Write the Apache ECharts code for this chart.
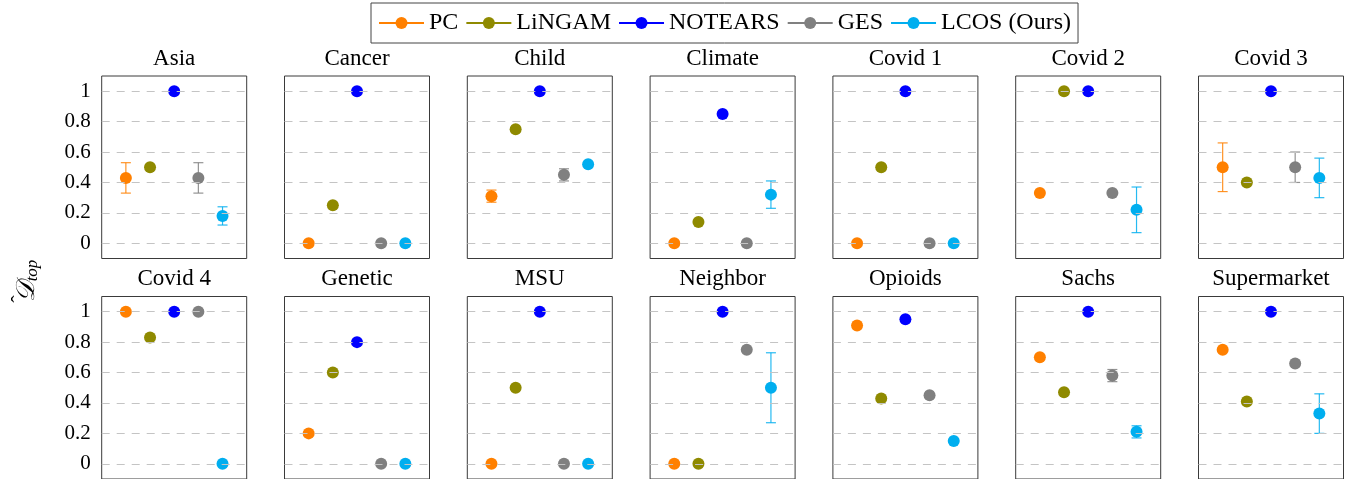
<!DOCTYPE html>
<html>
<head>
<meta charset="utf-8">
<script src="https://cdn.jsdelivr.net/npm/echarts@6/dist/echarts.min.js"></script>
<style>html,body{margin:0;padding:0;background:#fff}#c{width:1363px;height:479px}</style>
</head>
<body>
<div id="c"></div>
<script>
const datasetNames = ['Asia','Cancer','Child','Climate','Covid 1','Covid 2','Covid 3',
  'Covid 4','Genetic','MSU','Neighbor','Opioids','Sachs','Supermarket'];
const methods = ['PC','LiNGAM','NOTEARS','GES','LCOS (Ours)'];
const methodColors = ['#ff8000','#8f8a00','#0000ff','#808080','#00aeef'];

const pcValues      = [0.43,0,0.31,0,0,0.33,0.50,1,0.20,0,0,0.91,0.70,0.75];
const lingamValues  = [0.50,0.25,0.75,0.14,0.50,1,0.40,0.83,0.60,0.50,0,0.43,0.47,0.41];
const notearsValues = [1,1,1,0.85,1,1,1,1,0.80,1,1,0.95,1,1];
const gesValues     = [0.43,0,0.45,0,0,0.33,0.50,1,0,0,0.75,0.45,0.58,0.66];
const lcosValues    = [0.18,0,0.52,0.32,0,0.22,0.43,0,0,0,0.50,0.15,0.21,0.33];

// error bars [low, high] or null
const pcErr   = [[0.33,0.53],null,[0.27,0.35],null,null,null,[0.34,0.66],null,null,null,null,null,null,null];
const lingamErr = [null,null,null,null,null,null,null,null,null,null,null,null,null,null];
const notearsErr = [null,null,null,null,null,null,null,null,null,null,null,null,null,null];
const gesErr  = [[0.33,0.53],null,[0.41,0.49],null,null,null,[0.40,0.60],null,null,null,null,null,[0.54,0.62],null];
const lcosErr = [[0.12,0.24],null,null,[0.23,0.41],null,[0.07,0.37],[0.30,0.56],null,null,null,[0.27,0.73],null,[0.17,0.25],[0.20,0.46]];

const yTicks = [0,0.2,0.4,0.6,0.8,1];
const yTickLabels = ['0','0.2','0.4','0.6','0.8','1'];

const allValues = [pcValues, lingamValues, notearsValues, gesValues, lcosValues];
const allErr = [pcErr, lingamErr, notearsErr, gesErr, lcosErr];

const chart = echarts.init(document.getElementById('c'));
const serif = 'Liberation Serif';

const grids = [], xAxes = [], yAxes = [], series = [], titles = [];
const panelW = 145, pitch = 182.8, left0 = 101.7;
const rowTop = [76, 296.5], panelH = 182.5;

// marker series first (so the legend takes its icon from them)
datasetNames.forEach((name, i) => {
  const row = Math.floor(i / 7), col = i % 7;
  const left = left0 + pitch * col;
  const top = rowTop[row];
  grids.push({ left: left, top: top, width: panelW, height: panelH,
    show: true, borderColor: '#3a3a3a', borderWidth: 1, backgroundColor: 'transparent' });
  xAxes.push({ gridIndex: i, type: 'value', min: 0, max: 6, show: false });
  yAxes.push({ gridIndex: i, type: 'value', min: -0.1, max: 1.1,
    axisLine: { show: false },
    splitLine: { show: false },
    axisTick: { show: true, inside: true, length: 5, customValues: yTicks,
      lineStyle: { color: '#444', width: 1 } },
    axisLabel: { show: col === 0, customValues: yTicks, margin: 11,
      color: '#000', fontFamily: serif, fontSize: 21,
      formatter: v => yTickLabels[yTicks.findIndex(t => Math.abs(t - v) < 1e-6)] }
  });
  titles.push({ text: name, left: left + panelW / 2, top: top - 29, textAlign: 'center', padding: 0,
    textStyle: { fontFamily: serif, fontSize: 23, fontWeight: 'normal', color: '#000' } });

  methods.forEach((m, k) => {
    series.push({ type: 'line', name: m, xAxisIndex: i, yAxisIndex: i, z: 3,
      data: [[k + 1, allValues[k][i]]],
      symbol: 'circle', symbolSize: 12, showSymbol: true,
      itemStyle: { color: methodColors[k] },
      lineStyle: { color: methodColors[k], width: 1 },
      animation: false });
  });
});

datasetNames.forEach((name, i) => {
  // gridlines
  series.push({ type: 'line', name: '_grid', xAxisIndex: i, yAxisIndex: i, data: [], silent: true, z: 1,
    markLine: { silent: true, symbol: 'none', label: { show: false }, animation: false,
      lineStyle: { color: '#c4c4c4', type: [8, 7], width: 1 },
      data: yTicks.map(t => ({ yAxis: t })) } });
  methods.forEach((m, k) => {
    const err = allErr[k][i];
    if (!err) return;
    series.push({ type: 'custom', name: m + ' err', xAxisIndex: i, yAxisIndex: i, z: 2, silent: true,
      data: [[k + 1, err[0], err[1]]],
      renderItem: (params, api) => {
        const lo = api.coord([api.value(0), api.value(1)]);
        const hi = api.coord([api.value(0), api.value(2)]);
        const hw = 5;
        const st = { stroke: methodColors[k], lineWidth: 1.2, opacity: 0.85 };
        return { type: 'group', children: [
          { type: 'line', shape: { x1: lo[0], y1: lo[1], x2: hi[0], y2: hi[1] }, style: st },
          { type: 'line', shape: { x1: lo[0] - hw, y1: lo[1], x2: lo[0] + hw, y2: lo[1] }, style: st },
          { type: 'line', shape: { x1: hi[0] - hw, y1: hi[1], x2: hi[0] + hw, y2: hi[1] }, style: st }
        ] };
      }
    });
  });
});

chart.setOption({
  animation: false,
  title: titles,
  grid: grids,
  xAxis: xAxes,
  yAxis: yAxes,
  legend: {
    data: methods, left: 371, top: 3, orient: 'horizontal',
    padding: [8, 7, 8, 7], itemGap: 7, itemWidth: 45, itemHeight: 15,
    borderColor: '#444', borderWidth: 1,
    textStyle: { fontFamily: serif, fontSize: 24, color: '#000' },
    selectedMode: false
  },
  graphic: [{
    type: 'text', x: 27, y: 281, rotation: Math.PI / 2,
    style: {
      text: '{d|𝒟}{s|top}',
      textAlign: 'center', textVerticalAlign: 'middle',
      rich: {
        d: { fontFamily: serif, fontSize: 26, fontStyle: 'italic', fill: '#000' },
        s: { fontFamily: serif, fontSize: 17, fontStyle: 'italic', fill: '#000', padding: [12, 0, 0, 0] }
      }
    }
  }, {
    type: 'text', x: 20, y: 299, rotation: Math.PI / 2,
    style: { text: 'ˆ', font: '22px Liberation Serif', fill: '#000', textAlign: 'center', textVerticalAlign: 'middle' }
  }],
  series: series
});
</script>
</body>
</html>
